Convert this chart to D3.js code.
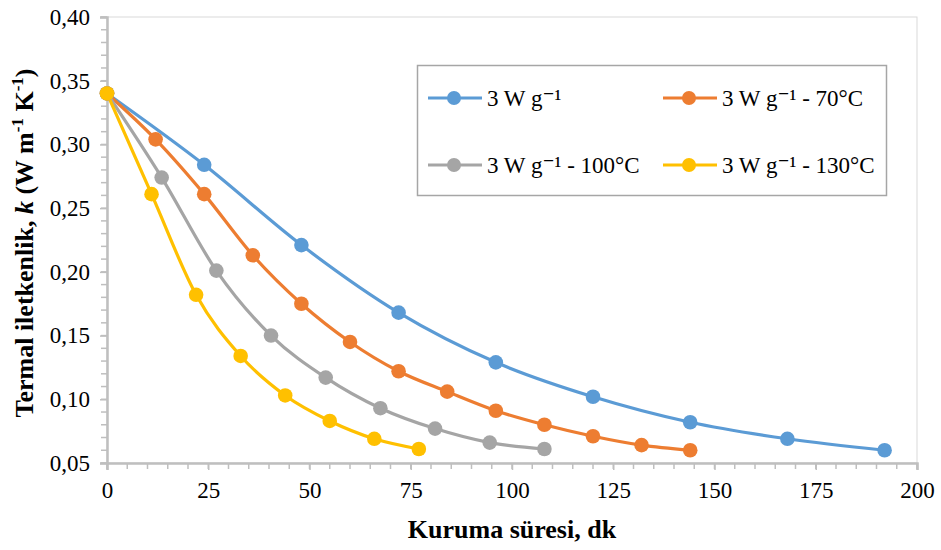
<!DOCTYPE html>
<html>
<head>
<meta charset="utf-8">
<script src="https://cdn.jsdelivr.net/npm/d3@7"></script>
<style>
  html, body { margin: 0; padding: 0; background: #fff; }
  svg { display: block; }
  svg text { font-family: "Liberation Serif", "Times New Roman", Times, "DejaVu Serif", serif !important; }
</style>
</head>
<body>
<svg id="chart" width="941" height="550"></svg>
<script>
// Drying time (min) and thermal conductivity k (W m-1 K-1) for each drying condition
const seriesNames = ["3 W g\u207B\u00B9", "3 W g\u207B\u00B9 - 70\u00B0C", "3 W g\u207B\u00B9 - 100\u00B0C", "3 W g\u207B\u00B9 - 130\u00B0C"];
const seriesColors = ["#5B9BD5", "#ED7D31", "#A5A5A5", "#FFC000"];

const time3W = [0, 24, 48, 72, 96, 120, 144, 168, 192];
const k3W = [0.340, 0.284, 0.221, 0.168, 0.129, 0.102, 0.082, 0.069, 0.060];

const time70 = [0, 12, 24, 36, 48, 60, 72, 84, 96, 108, 120, 132, 144];
const k70 = [0.340, 0.304, 0.261, 0.213, 0.175, 0.145, 0.122, 0.106, 0.091, 0.080, 0.071, 0.064, 0.060];

const time100 = [0, 13.5, 27, 40.5, 54, 67.5, 81, 94.5, 108];
const k100 = [0.340, 0.274, 0.201, 0.150, 0.117, 0.093, 0.077, 0.066, 0.061];

const time130 = [0, 11, 22, 33, 44, 55, 66, 77];
const k130 = [0.340, 0.261, 0.182, 0.134, 0.103, 0.083, 0.069, 0.061];

const xTicks = [0, 25, 50, 75, 100, 125, 150, 175, 200];
const yTicks = [0.05, 0.10, 0.15, 0.20, 0.25, 0.30, 0.35, 0.40];

const series = [
  { name: seriesNames[0], color: seriesColors[0], x: time3W, y: k3W },
  { name: seriesNames[1], color: seriesColors[1], x: time70, y: k70 },
  { name: seriesNames[2], color: seriesColors[2], x: time100, y: k100 },
  { name: seriesNames[3], color: seriesColors[3], x: time130, y: k130 }
];

const FONT = "'Liberation Serif', 'Times New Roman', Times, 'DejaVu Serif', serif";
const svg = d3.select("#chart").attr("font-family", FONT);
const plot = { left: 107, right: 917, top: 17, bottom: 463 };

const x = d3.scaleLinear().domain([0, 200]).range([plot.left, plot.right]);
const y = d3.scaleLinear().domain([0.05, 0.40]).range([plot.bottom, plot.top]);

const axisColor = "#BFBFBF";
const fmt = d => d.toFixed(2).replace(".", ",");

// Plot frame
svg.append("rect")
  .attr("x", plot.left).attr("y", plot.top)
  .attr("width", plot.right - plot.left).attr("height", plot.bottom - plot.top)
  .attr("fill", "none").attr("stroke", "#D9D9D9").attr("stroke-width", 1);

// Minor ticks
const xMinor = d3.range(0, 201, 5);
const yMinor = d3.range(5, 41, 1).map(v => v / 100);

svg.append("g").selectAll("line").data(xMinor).join("line")
  .attr("x1", d => x(d)).attr("x2", d => x(d))
  .attr("y1", plot.bottom).attr("y2", plot.bottom + 6)
  .attr("stroke", axisColor).attr("stroke-width", 1.5);

svg.append("g").selectAll("line").data(yMinor).join("line")
  .attr("x1", plot.left - 6).attr("x2", plot.left)
  .attr("y1", d => y(d)).attr("y2", d => y(d))
  .attr("stroke", axisColor).attr("stroke-width", 1.5);

// Axes
const xAxis = svg.append("g")
  .attr("transform", `translate(0,${plot.bottom})`)
  .call(d3.axisBottom(x).tickValues(xTicks).tickSize(7).tickPadding(12).tickFormat(d3.format("d")));
const yAxis = svg.append("g")
  .attr("transform", `translate(${plot.left},0)`)
  .call(d3.axisLeft(y).tickValues(yTicks).tickSize(7).tickPadding(10).tickFormat(fmt));

[xAxis, yAxis].forEach(g => {
  g.attr("font-family", FONT).attr("font-size", 23);
  g.select(".domain").attr("stroke", axisColor).attr("stroke-width", 2.5);
  g.selectAll(".tick line").attr("stroke", axisColor).attr("stroke-width", 1.5);
  g.selectAll(".tick text").attr("fill", "#000");
});

// Lines and markers
const line = d3.line().curve(d3.curveCardinal.tension(0));

series.forEach(s => {
  const pts = s.x.map((t, i) => [x(t), y(s.y[i])]);
  svg.append("path")
    .attr("d", line(pts))
    .attr("fill", "none")
    .attr("stroke", s.color)
    .attr("stroke-width", 3.2)
    .attr("stroke-linejoin", "round");
});

series.forEach(s => {
  svg.append("g").selectAll("circle").data(s.x.map((t, i) => [t, s.y[i]])).join("circle")
    .attr("cx", d => x(d[0]))
    .attr("cy", d => y(d[1]))
    .attr("r", 7.3)
    .attr("fill", s.color);
});

// Legend
const legend = svg.append("g");
legend.append("rect")
  .attr("x", 417.5).attr("y", 65.5).attr("width", 469).attr("height", 130)
  .attr("fill", "#fff").attr("stroke", "#A6A6A6").attr("stroke-width", 1.5);

const legendPos = [
  { lx: 428, ly: 98 }, { lx: 663, ly: 98 },
  { lx: 428, ly: 165 }, { lx: 663, ly: 165 }
];
series.forEach((s, i) => {
  const p = legendPos[i];
  legend.append("line")
    .attr("x1", p.lx).attr("x2", p.lx + 54)
    .attr("y1", p.ly).attr("y2", p.ly)
    .attr("stroke", s.color).attr("stroke-width", 3.2);
  legend.append("circle")
    .attr("cx", p.lx + 26).attr("cy", p.ly).attr("r", 7)
    .attr("fill", s.color);
  legend.append("text")
    .attr("x", p.lx + 59).attr("y", p.ly + 8)
    .attr("font-size", 23)
    .text(s.name);
});

// Axis titles
svg.append("text")
  .attr("x", (plot.left + plot.right) / 2)
  .attr("y", 538)
  .attr("text-anchor", "middle")
  .attr("font-size", 26)
  .attr("font-weight", "bold")
  .text("Kuruma süresi, dk");

const yTitle = svg.append("text")
  .attr("transform", `translate(33,${(plot.top + plot.bottom) / 2 + 3}) rotate(-90)`)
  .attr("text-anchor", "middle")
  .attr("font-size", 26)
  .attr("font-weight", "bold");
yTitle.append("tspan").text("Termal iletkenlik, ");
yTitle.append("tspan").attr("font-style", "italic").text("k");
yTitle.append("tspan").text(" (W m");
yTitle.append("tspan").attr("dy", -10).attr("font-size", 17).text("-1");
yTitle.append("tspan").attr("dy", 10).text(" K");
yTitle.append("tspan").attr("dy", -10).attr("font-size", 17).text("-1");
yTitle.append("tspan").attr("dy", 10).text(")");
</script>
</body>
</html>
